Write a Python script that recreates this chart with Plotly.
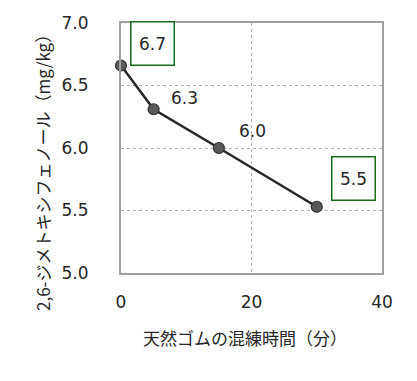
import plotly.graph_objects as go

# Data
mix_time = [0, 5, 15, 30]
dmp = [6.66, 6.31, 6.00, 5.53]
x_ticks = [0, 20, 40]
y_ticks = [5.0, 5.5, 6.0, 6.5, 7.0]
x_title = "天然ゴムの混練時間（分）"
y_title = "2,6-ジメトキシフェノール（mg/kg）"

# label placement (data coords) and whether boxed
label_pos = [(4.83, 6.836, True), (9.73, 6.40, False), (20.08, 6.14, False), (35.7, 5.756, True)]

FONT = "Noto Sans CJK JP"
NUMFONT = "DejaVu Sans"
TXT = "#262626"
fig = go.Figure()
fig.add_trace(go.Scatter(
    x=mix_time, y=dmp, mode="lines+markers",
    line=dict(color="#262626", width=2.5),
    marker=dict(size=11, color="#595959", line=dict(color="#333333", width=1.2)),
    showlegend=False, cliponaxis=False,
))

for v, (lx, ly, boxed) in zip(dmp, label_pos):
    kw = dict(bordercolor="#1a6b1a", borderwidth=1.5, borderpad=6, bgcolor="white",
              width=30, height=30) if boxed else {}
    fig.add_annotation(
        x=lx, y=ly, xref="x", yref="y", text=f"{v:.1f}", showarrow=False,
        font=dict(family=NUMFONT, size=17, color=TXT), **kw,
    )

# axis titles as annotations (paper coords)
fig.add_annotation(x=-0.3027, y=0.42, xref="paper", yref="paper", text=y_title,
                   textangle=-90, showarrow=False, xanchor="center", yanchor="middle",
                   font=dict(family=FONT, size=17, color=TXT))
fig.add_annotation(x=0.477, y=-0.256, xref="paper", yref="paper", text=x_title,
                   showarrow=False, xanchor="center", yanchor="middle",
                   font=dict(family=FONT, size=17, color=TXT))

fig.update_layout(
    width=409, height=373,
    margin=dict(l=113, r=35, t=15, b=108),
    paper_bgcolor="white", plot_bgcolor="white",
    font=dict(family=FONT, color=TXT),
    xaxis=dict(
        range=[0, 40], tickvals=x_ticks, showgrid=True, automargin=False,
        gridcolor="#b0b0b0", griddash="dot", gridwidth=1,
        showline=True, linecolor="#a0a0a0", linewidth=2, mirror=True,
        zeroline=False, ticks="", ticklabelstandoff=13,
        tickfont=dict(size=17, family=NUMFONT, color=TXT),
    ),
    yaxis=dict(
        range=[5.0, 7.0], tickvals=y_ticks, tickformat=".1f", showgrid=True, automargin=False,
        gridcolor="#b0b0b0", griddash="dot", gridwidth=1,
        showline=True, linecolor="#a0a0a0", linewidth=2, mirror=True,
        zeroline=False, ticks="", ticklabelstandoff=27,
        tickfont=dict(size=17, family=NUMFONT, color=TXT),
    ),
)
fig.write_html("out.html")
